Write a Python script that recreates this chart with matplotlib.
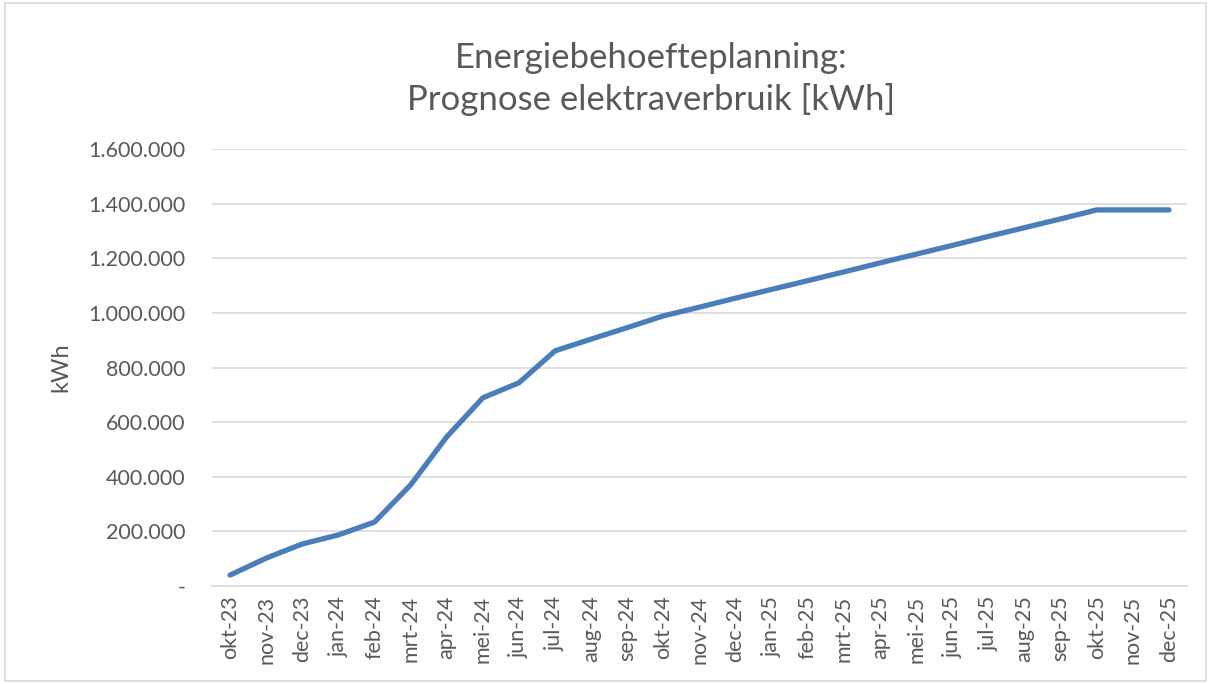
import matplotlib.pyplot as plt
from matplotlib.patches import Rectangle
from matplotlib.ticker import FuncFormatter

plt.rcParams['font.family'] = ['Lato', 'DejaVu Sans']

# Data
months = ["okt-23", "nov-23", "dec-23", "jan-24", "feb-24", "mrt-24", "apr-24",
          "mei-24", "jun-24", "jul-24", "aug-24", "sep-24", "okt-24", "nov-24",
          "dec-24", "jan-25", "feb-25", "mrt-25", "apr-25", "mei-25", "jun-25",
          "jul-25", "aug-25", "sep-25", "okt-25", "nov-25", "dec-25"]
kwh = [40000, 102000, 154000, 187000, 234000, 370000, 546000,
       689000, 744000, 861000, 904000, 946000, 989000, 1021000,
       1054000, 1086000, 1118000, 1150000, 1183000, 1215000, 1247000,
       1280000, 1312000, 1344000, 1377000, 1377000, 1377000]

grey = "#595959"

fig = plt.figure(figsize=(12.13, 6.84), dpi=100)
ax = fig.add_axes([212 / 1213, 1 - 586 / 684, 975 / 1213, 437 / 684])

# chart border
fig.patches.append(Rectangle((5 / 1213, 3 / 684), 1201 / 1213, 678 / 684,
                             transform=fig.transFigure, fill=False,
                             edgecolor="#d9d9d9", linewidth=1.2))

x = range(len(months))
ax.plot(x, kwh, color="#4a7ebb", linewidth=3.8, solid_capstyle="round",
        solid_joinstyle="round", zorder=3)

ax.set_xlim(-0.5, len(months) - 0.5)
ax.set_ylim(0, 1600000)
ax.set_yticks(range(0, 1600001, 200000))


def fmt(v, pos):
    if v == 0:
        return "-"
    return f"{int(v):,}".replace(",", ".")


ax.yaxis.set_major_formatter(FuncFormatter(fmt))
ax.set_xticks(list(x))
ax.set_xticklabels(months, rotation=90)
ax.tick_params(axis="both", length=0, labelsize=15.5, labelcolor=grey)
ax.tick_params(axis="x", pad=7)
ax.tick_params(axis="y", pad=19)

ax.grid(axis="y", color="#d9d9d9", linewidth=1.2)
ax.set_axisbelow(True)
for side in ["top", "right", "left"]:
    ax.spines[side].set_visible(False)
ax.spines["bottom"].set_color("#d9d9d9")
ax.spines["bottom"].set_linewidth(1.2)

ax.set_ylabel("kWh", fontsize=17, color=grey, labelpad=12)

fig.text(0.537, 1 - 79 / 684, "Energiebehoefteplanning:\nPrognose elektraverbruik [kWh]",
         ha="center", va="center", fontsize=25, color=grey, linespacing=1.35)

fig.savefig("out.png", dpi=100)
